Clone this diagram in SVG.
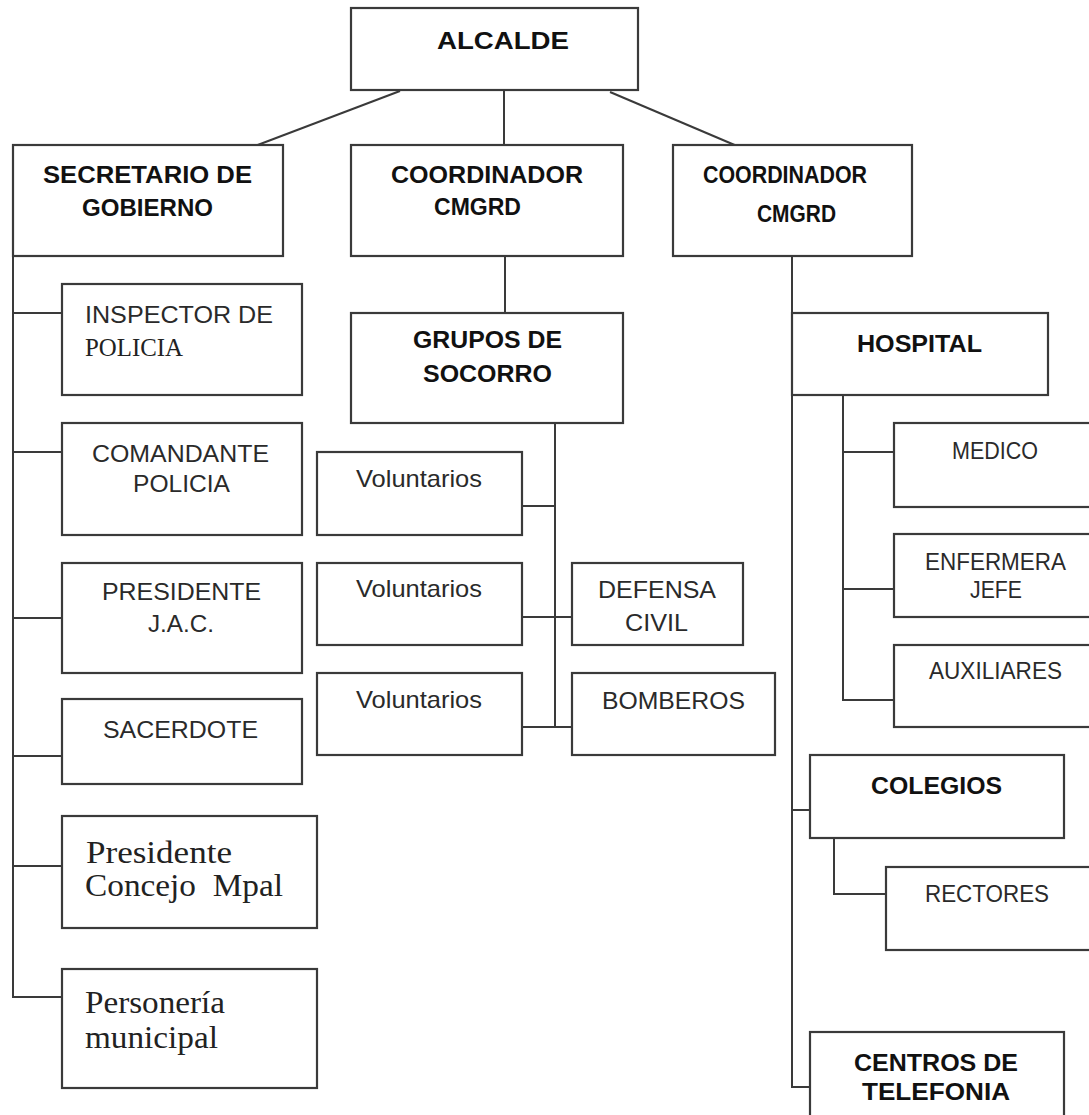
<svg xmlns="http://www.w3.org/2000/svg" width="1089" height="1115" viewBox="0 0 1089 1115">
<style>
.box{fill:#fff;stroke:#3a3a3a;stroke-width:2.2}
.ln{fill:none;stroke:#3a3a3a;stroke-width:2}
.b{font-family:"Liberation Sans",Arial,sans-serif;font-weight:bold;font-size:24px;fill:#111}
.r{font-family:"Liberation Sans",Arial,sans-serif;font-size:24px;fill:#2a2a2a}
.s{font-family:"Liberation Serif","Times New Roman",serif;font-size:25px;fill:#222}
.s2{font-family:"Liberation Serif","Times New Roman",serif;font-size:31px;fill:#222}
</style>
<rect width="1089" height="1115" fill="#fff"/>
<g id="connectors">
<path class="ln" d="M400,91 L255,146"/>
<path class="ln" d="M504,91 V146"/>
<path class="ln" d="M610,92 L737,146"/>
<path class="ln" d="M13,256 V997 H62"/>
<path class="ln" d="M13,313 H62"/>
<path class="ln" d="M13,452 H62"/>
<path class="ln" d="M13,618 H62"/>
<path class="ln" d="M13,756 H62"/>
<path class="ln" d="M13,866 H62"/>
<path class="ln" d="M505,256 V313"/>
<path class="ln" d="M555,423 V727"/>
<path class="ln" d="M522,506 H555"/>
<path class="ln" d="M522,617 H572"/>
<path class="ln" d="M522,727 H572"/>
<path class="ln" d="M792,256 V1087 H810"/>
<path class="ln" d="M792,810 H810"/>
<path class="ln" d="M843,395 V700 H894"/>
<path class="ln" d="M843,452 H894"/>
<path class="ln" d="M843,589 H894"/>
<path class="ln" d="M834,838 V894 H886"/>
</g>
<g id="alcalde"><rect class="box" x="351" y="8" width="287" height="82"/><text class="b" x="437" y="49" textLength="132" lengthAdjust="spacingAndGlyphs">ALCALDE</text></g>
<g id="secretario"><rect class="box" x="13" y="145" width="270" height="111"/><text class="b" x="43" y="183" textLength="209" lengthAdjust="spacingAndGlyphs">SECRETARIO DE</text><text class="b" x="82" y="216" textLength="131" lengthAdjust="spacingAndGlyphs">GOBIERNO</text></g>
<g id="coord1"><rect class="box" x="351" y="145" width="272" height="111"/><text class="b" x="391" y="183" textLength="192" lengthAdjust="spacingAndGlyphs">COORDINADOR</text><text class="b" x="434" y="215" textLength="87" lengthAdjust="spacingAndGlyphs">CMGRD</text></g>
<g id="coord2"><rect class="box" x="673" y="145" width="239" height="111"/><text class="b" x="703" y="183" textLength="164" lengthAdjust="spacingAndGlyphs">COORDINADOR</text><text class="b" x="757" y="222" textLength="79" lengthAdjust="spacingAndGlyphs">CMGRD</text></g>
<g id="inspector"><rect class="box" x="62" y="284" width="240" height="111"/><text class="r" x="85" y="323" textLength="188" lengthAdjust="spacingAndGlyphs">INSPECTOR DE</text><text class="s" x="85" y="356" textLength="98" lengthAdjust="spacingAndGlyphs">POLICIA</text></g>
<g id="comandante"><rect class="box" x="62" y="423" width="240" height="112"/><text class="r" x="92" y="462" textLength="177" lengthAdjust="spacingAndGlyphs">COMANDANTE</text><text class="r" x="133" y="492" textLength="97" lengthAdjust="spacingAndGlyphs">POLICIA</text></g>
<g id="presidente-jac"><rect class="box" x="62" y="563" width="240" height="110"/><text class="r" x="102" y="600" textLength="159" lengthAdjust="spacingAndGlyphs">PRESIDENTE</text><text class="r" x="148" y="632" textLength="66" lengthAdjust="spacingAndGlyphs">J.A.C.</text></g>
<g id="sacerdote"><rect class="box" x="62" y="699" width="240" height="85"/><text class="r" x="103" y="738" textLength="155" lengthAdjust="spacingAndGlyphs">SACERDOTE</text></g>
<g id="concejo"><rect class="box" x="62" y="816" width="255" height="112"/><text class="s2" x="86" y="863" textLength="146" lengthAdjust="spacingAndGlyphs">Presidente</text><text class="s2" x="85" y="896" textLength="198" lengthAdjust="spacingAndGlyphs" xml:space="preserve">Concejo  Mpal</text></g>
<g id="personeria"><rect class="box" x="62" y="969" width="255" height="119"/><text class="s2" x="85" y="1013" textLength="140" lengthAdjust="spacingAndGlyphs">Personería</text><text class="s2" x="85" y="1048" textLength="133" lengthAdjust="spacingAndGlyphs">municipal</text></g>
<g id="grupos"><rect class="box" x="351" y="313" width="272" height="110"/><text class="b" x="413" y="348" textLength="149" lengthAdjust="spacingAndGlyphs">GRUPOS DE</text><text class="b" x="423" y="382" textLength="129" lengthAdjust="spacingAndGlyphs">SOCORRO</text></g>
<g id="voluntarios1"><rect class="box" x="317" y="452" width="205" height="83"/><text class="r" x="356" y="487" textLength="126" lengthAdjust="spacingAndGlyphs">Voluntarios</text></g>
<g id="voluntarios2"><rect class="box" x="317" y="563" width="205" height="82"/><text class="r" x="356" y="597" textLength="126" lengthAdjust="spacingAndGlyphs">Voluntarios</text></g>
<g id="voluntarios3"><rect class="box" x="317" y="673" width="205" height="82"/><text class="r" x="356" y="708" textLength="126" lengthAdjust="spacingAndGlyphs">Voluntarios</text></g>
<g id="defensa"><rect class="box" x="572" y="563" width="171" height="82"/><text class="r" x="598" y="598" textLength="118" lengthAdjust="spacingAndGlyphs">DEFENSA</text><text class="r" x="625" y="631" textLength="63" lengthAdjust="spacingAndGlyphs">CIVIL</text></g>
<g id="bomberos"><rect class="box" x="572" y="673" width="203" height="82"/><text class="r" x="602" y="709" textLength="143" lengthAdjust="spacingAndGlyphs">BOMBEROS</text></g>
<g id="hospital"><rect class="box" x="792" y="313" width="256" height="82"/><text class="b" x="857" y="352" textLength="125" lengthAdjust="spacingAndGlyphs">HOSPITAL</text></g>
<g id="medico"><rect class="box" x="894" y="423" width="210" height="84"/><text class="r" x="952" y="459" textLength="86" lengthAdjust="spacingAndGlyphs">MEDICO</text></g>
<g id="enfermera"><rect class="box" x="894" y="534" width="210" height="83"/><text class="r" x="925" y="570" textLength="141" lengthAdjust="spacingAndGlyphs">ENFERMERA</text><text class="r" x="970" y="598" textLength="52" lengthAdjust="spacingAndGlyphs">JEFE</text></g>
<g id="auxiliares"><rect class="box" x="894" y="645" width="210" height="82"/><text class="r" x="929" y="679" textLength="133" lengthAdjust="spacingAndGlyphs">AUXILIARES</text></g>
<g id="colegios"><rect class="box" x="810" y="755" width="254" height="83"/><text class="b" x="871" y="794" textLength="131" lengthAdjust="spacingAndGlyphs">COLEGIOS</text></g>
<g id="rectores"><rect class="box" x="886" y="867" width="218" height="83"/><text class="r" x="925" y="902" textLength="124" lengthAdjust="spacingAndGlyphs">RECTORES</text></g>
<g id="centros"><rect class="box" x="810" y="1032" width="254" height="100"/><text class="b" x="854" y="1071" textLength="164" lengthAdjust="spacingAndGlyphs">CENTROS DE</text><text class="b" x="862" y="1100" textLength="148" lengthAdjust="spacingAndGlyphs">TELEFONIA</text></g>
</svg>
